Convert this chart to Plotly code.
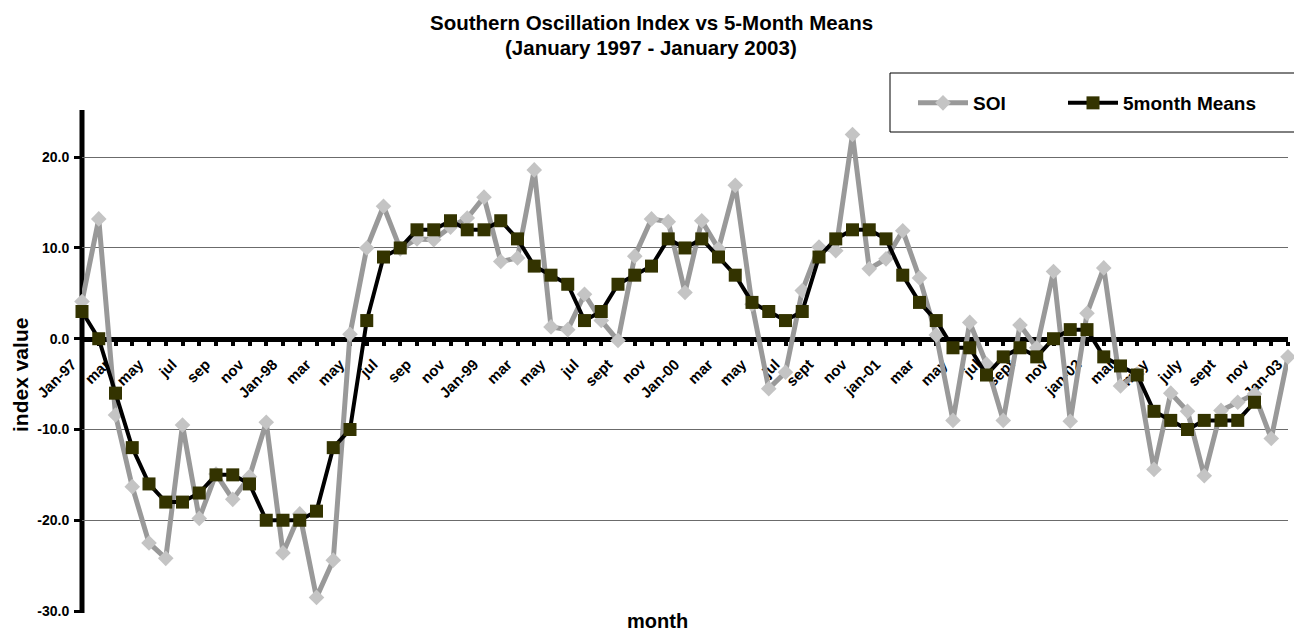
import plotly.graph_objects as go

tick_labels = ["Jan-97", "mar", "may", "jul", "sep", "nov",
               "Jan-98", "mar", "may", "jul", "sep", "nov",
               "Jan-99", "mar", "may", "jul", "sept", "nov",
               "Jan-00", "mar", "may", "jul", "sept", "nov",
               "jan-01", "mar", "may", "jul", "sept", "nov",
               "jan-02", "mar", "may", "july", "sept", "nov",
               "Jan-03"]

soi = [4.1, 13.2, -8.4, -16.3, -22.5, -24.2, -9.5, -19.8, -14.9, -17.7, -15.2, -9.2,
       -23.6, -19.3, -28.5, -24.4, 0.5, 10.0, 14.6, 9.9, 11.0, 10.9, 12.3, 13.3,
       15.6, 8.5, 8.9, 18.6, 1.3, 1.0, 4.9, 2.0, -0.2, 9.1, 13.2, 12.9,
       5.1, 13.0, 9.9, 16.9, 3.8, -5.5, -3.7, 5.3, 10.1, 9.7, 22.5, 7.7,
       8.8, 11.9, 6.7, 0.4, -9.0, 1.8, -2.8, -9.0, 1.5, -1.0, 7.4, -9.1,
       2.8, 7.8, -5.2, -3.9, -14.4, -6.0, -8.0, -15.1, -7.9, -7.0, -6.1, -11.0,
       -2.0]

means = [3, 0, -6, -12, -16, -18, -18, -17, -15, -15, -16, -20,
         -20, -20, -19, -12, -10, 2, 9, 10, 12, 12, 13, 12,
         12, 13, 11, 8, 7, 6, 2, 3, 6, 7, 8, 11,
         10, 11, 9, 7, 4, 3, 2, 3, 9, 11, 12, 12,
         11, 7, 4, 2, -1, -1, -4, -2, -1, -2, 0, 1,
         1, -2, -3, -4, -8, -9, -10, -9, -9, -9, -7]

y_ticks = [-30, -20, -10, 0, 10, 20]
y_ticktext = ["-30.0", "-20.0", "-10.0", "0.0", "10.0", "20.0"]

x = list(range(len(soi)))
means_full = means + [None] * (len(soi) - len(means))
x_ticktext = [tick_labels[i // 2] if i % 2 == 0 else "" for i in x]

FONT = "Liberation Sans, Arial, sans-serif"
Y_MIN, Y_MAX = -30, 25.2

# figure is shown offset by 8px inside the page: work in screen pixels
OFF = 8
SCREEN_W, SCREEN_H = 1302, 633
W, H = SCREEN_W - OFF, SCREEN_H - OFF
PLOT_LEFT, PLOT_RIGHT, PLOT_TOP, PLOT_BOTTOM = 82, 1288, 110, 611   # screen px
L = PLOT_LEFT - OFF
R = W - (PLOT_RIGHT - OFF)
T = PLOT_TOP - OFF
B = H - (PLOT_BOTTOM - OFF)
plot_w = W - L - R
plot_h = H - T - B
n_last = len(soi) - 1


def px_x(p):
    return (p - PLOT_LEFT) / plot_w


def px_y(p):
    return (PLOT_BOTTOM - p) / plot_h


fig = go.Figure()
fig.add_trace(go.Scatter(
    x=x, y=soi, name="SOI", mode="lines+markers",
    line=dict(color="#999999", width=5),
    marker=dict(symbol="diamond", size=12, color="#c4c4c4"),
    cliponaxis=False, legend="legend",
))
fig.add_trace(go.Scatter(
    x=x, y=means_full, name="5month Means", mode="lines+markers",
    line=dict(color="#000000", width=4),
    marker=dict(symbol="square", size=13, color="#333300",
                line=dict(color="#333300", width=0)),
    cliponaxis=False, legend="legend2",
))

zero_pos = (0 - Y_MIN) / (Y_MAX - Y_MIN)
legend_font = dict(family=FONT, size=19, weight="bold", color="black")

fig.update_layout(
    width=W, height=H,
    margin=dict(l=L, r=R, t=T, b=B, autoexpand=False),
    plot_bgcolor="white", paper_bgcolor="white",
    font=dict(family=FONT, color="black"),
    showlegend=True,
    legend=dict(
        orientation="h", x=px_x(913), y=px_y(103), xanchor="left", yanchor="middle",
        font=legend_font, bgcolor="rgba(0,0,0,0)", borderwidth=0, itemwidth=50,
    ),
    legend2=dict(
        orientation="h", x=px_x(1063), y=px_y(103), xanchor="left", yanchor="middle",
        font=legend_font, bgcolor="rgba(0,0,0,0)", borderwidth=0, itemwidth=50,
    ),
    xaxis=dict(
        range=[0, n_last],
        anchor="free", position=zero_pos, automargin=False,
        layer="below traces",
        tickmode="array", tickvals=x, ticktext=x_ticktext,
        tickangle=-45, ticklabelstandoff=4, ticklabelshift=-10,
        tickfont=dict(family=FONT, size=15, weight="bold", color="black"),
        showline=True, linewidth=5, linecolor="black",
        ticks="outside", ticklen=4, tickwidth=4, tickcolor="black",
        showgrid=False, zeroline=False,
    ),
    yaxis=dict(
        range=[Y_MIN, Y_MAX], automargin=False,
        layer="below traces",
        tickmode="array", tickvals=y_ticks, ticktext=y_ticktext,
        ticklabelstandoff=2,
        tickfont=dict(family=FONT, size=14, weight="bold", color="black"),
        showline=False,
        ticks="outside", ticklen=7, tickwidth=3, tickcolor="black",
        showgrid=True, gridcolor="#6b6b6b", gridwidth=1,
        zeroline=False,
    ),
    shapes=[
        dict(type="line", xref="paper", yref="paper", x0=0, x1=0, y0=-0.004, y1=1,
             line=dict(color="black", width=5), layer="between"),
        dict(type="rect", xref="paper", yref="paper",
             x0=px_x(890), x1=px_x(1310), y0=px_y(132), y1=px_y(73),
             line=dict(color="black", width=1), fillcolor="rgba(0,0,0,0)", layer="below"),
    ],
    annotations=[
        dict(text="Southern Oscillation Index vs 5-Month Means", xref="paper", yref="paper",
             x=px_x(651), y=px_y(22), xanchor="center", yanchor="middle", showarrow=False,
             font=dict(family=FONT, size=20.5, weight="bold", color="black")),
        dict(text="(January 1997 - January 2003)", xref="paper", yref="paper",
             x=px_x(651), y=px_y(47), xanchor="center", yanchor="middle", showarrow=False,
             font=dict(family=FONT, size=20.5, weight="bold", color="black")),
        dict(text="month", xref="paper", yref="paper",
             x=px_x(657), y=px_y(621), xanchor="center", yanchor="middle", showarrow=False,
             font=dict(family=FONT, size=20, weight="bold", color="black")),
        dict(text="index value", xref="paper", yref="paper", textangle=-90,
             x=px_x(20), y=px_y(375), xanchor="center", yanchor="middle", showarrow=False,
             font=dict(family=FONT, size=21, weight="bold", color="black")),
    ],
)

fig.write_html("out.html")
